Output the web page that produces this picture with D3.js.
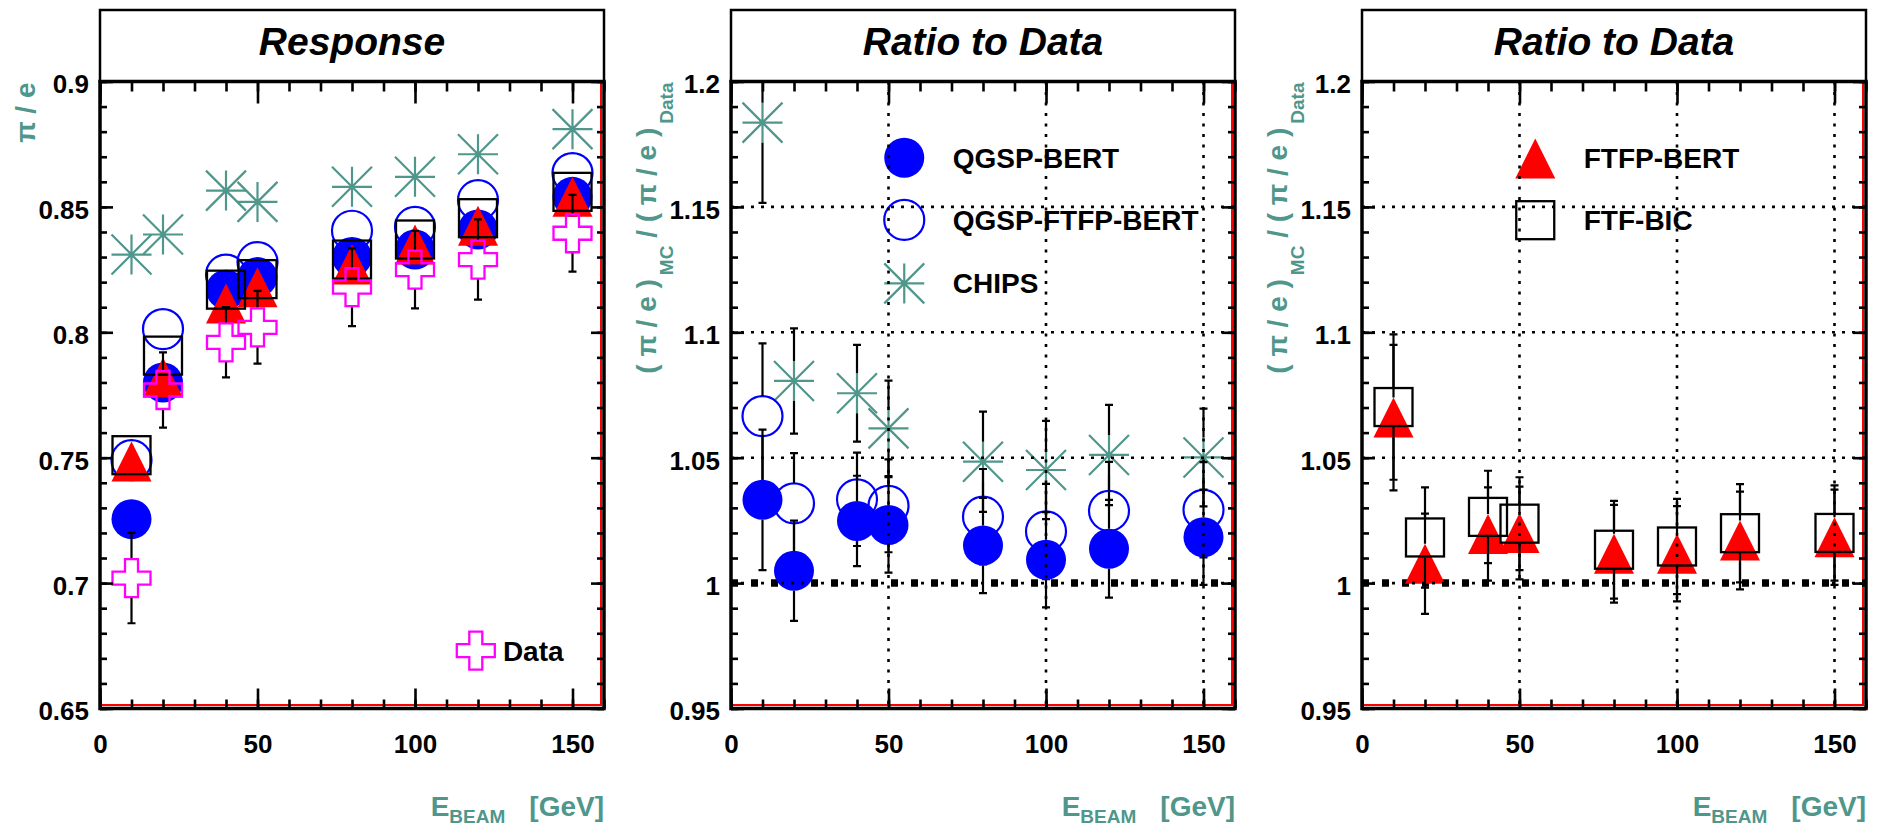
<!DOCTYPE html>
<html>
<head>
<meta charset="utf-8">
<script src="https://cdn.jsdelivr.net/npm/d3@7"></script>
<style>
  body { margin: 0; background: #fff; }
  svg text { font-family: "Liberation Sans", Arial, Helvetica, sans-serif; font-weight: bold; white-space: pre; }
</style>
</head>
<body>
<svg id="chart"></svg>
<script>
const energies = [10, 20, 40, 50, 80, 100, 120, 150];

// pi/e response
const dataResp = [0.702, 0.777, 0.796, 0.802, 0.818, 0.825, 0.829, 0.8395];
const dataRespErr = [0.018, 0.015, 0.014, 0.0145, 0.0155, 0.0155, 0.016, 0.0153];
const qgspBertResp = [0.7255, 0.780, 0.817, 0.822, 0.830, 0.833, 0.841, 0.854];
const qgspFtfpBertResp = [0.749, 0.8013, 0.823, 0.828, 0.8405, 0.842, 0.8527, 0.8635];
const chipsResp = [0.831, 0.839, 0.8565, 0.852, 0.858, 0.862, 0.871, 0.881];
const ftfpBertResp = [0.7485, 0.782, 0.8115, 0.818, 0.827, 0.835, 0.8425, 0.854];
const ftfBicResp = [0.751, 0.7907, 0.817, 0.8212, 0.829, 0.837, 0.8455, 0.856];

// ratio MC / data
const qgspBertRatio = [1.0332, 1.0049, 1.0248, 1.0232, 1.015, 1.0093, 1.0137, 1.0183];
const qgspBertRatioErr = [0.028, 0.020, 0.018, 0.019, 0.019, 0.019, 0.0195, 0.019];
const qgspFtfpBertRatio = [1.0666, 1.0318, 1.0334, 1.0308, 1.0265, 1.0206, 1.0288, 1.0292];
const qgspFtfpBertRatioErr = [0.029, 0.020, 0.0186, 0.0185, 0.019, 0.019, 0.0195, 0.019];
const chipsRatio = [1.1836, 1.0806, 1.0757, 1.0617, 1.0484, 1.0451, 1.0511, 1.0501];
const chipsRatioErr = [0.032, 0.021, 0.0193, 0.019, 0.020, 0.0196, 0.020, 0.0195];
const ftfpBertRatio = [1.066, 1.0077, 1.0196, 1.020, 1.0117, 1.0117, 1.017, 1.0183];
const ftfpBertRatioErr = [0.029, 0.020, 0.0186, 0.0185, 0.0195, 0.019, 0.0195, 0.019];
const ftfBicRatio = [1.0702, 1.0182, 1.0264, 1.0237, 1.0133, 1.0146, 1.0199, 1.020];
const ftfBicRatioErr = [0.029, 0.020, 0.0184, 0.0185, 0.0195, 0.019, 0.0196, 0.019];

const xMajor = [0, 50, 100, 150];
const gridX = [50, 100, 150];
const gridY = [1.0, 1.05, 1.1, 1.15];

const W = 1877, H = 826;
const panelLeft = [100, 731, 1362];
const panelWidth = 504;
const boxTop = 10, plotTop = 81.5, plotBottom = 708.5;
const teal = "#4f968b";

const svg = d3.select("#chart").attr("width", W).attr("height", H);

function drawMarker(sel, type) {
  if (type === "fullCircle") {
    sel.append("circle").attr("r", 20).attr("fill", "#0000ff");
  } else if (type === "openCircle") {
    sel.append("circle").attr("r", 20).attr("fill", "none").attr("stroke", "#0000ff").attr("stroke-width", 2.2);
  } else if (type === "star") {
    sel.append("path")
      .attr("d", "M-20,0H20M0,-20V20M-20,-20L20,20M-20,20L20,-20")
      .attr("stroke", teal).attr("stroke-width", 2.2).attr("fill", "none");
  } else if (type === "triangle") {
    sel.append("path").attr("d", "M0,-20L20,20L-20,20Z").attr("fill", "#ff0000");
  } else if (type === "square") {
    sel.append("rect").attr("x", -19).attr("y", -19).attr("width", 38).attr("height", 38)
      .attr("fill", "none").attr("stroke", "#000").attr("stroke-width", 2.3);
  } else if (type === "openCross") {
    const a = 19, b = 6.5;
    sel.append("path")
      .attr("d", `M${-b},${-a}H${b}V${-b}H${a}V${b}H${b}V${a}H${-b}V${b}H${-a}V${-b}H${-b}Z`)
      .attr("fill", "none").attr("stroke", "#ff00ff").attr("stroke-width", 2.3);
  }
}

function makePanel(p, i) {
  const left = panelLeft[i], right = left + panelWidth;
  const x = d3.scaleLinear().domain([0, 160]).range([left, right]);
  const y = d3.scaleLinear().domain(p.yDomain).range([plotBottom, plotTop]);
  const g = svg.append("g");

  // title box
  g.append("rect")
    .attr("x", left).attr("y", boxTop)
    .attr("width", panelWidth).attr("height", plotTop - boxTop)
    .attr("fill", "none").attr("stroke", "#000").attr("stroke-width", 2.5);
  g.append("text")
    .attr("x", (left + right) / 2).attr("y", 55)
    .attr("text-anchor", "middle")
    .attr("font-size", 39).attr("font-style", "italic")
    .text(p.title);

  // red frame histogram line
  g.append("path")
    .attr("d", `M${left},${plotBottom - 3.5}H${right - 3}V${plotTop}`)
    .attr("fill", "none").attr("stroke", "#ff0000").attr("stroke-width", 2);

  const clipId = "clip" + i;
  g.append("clipPath").attr("id", clipId)
    .append("rect").attr("x", left).attr("y", plotTop)
    .attr("width", panelWidth).attr("height", plotBottom - plotTop);

  const plot = g.append("g").attr("clip-path", `url(#${clipId})`);

  if (p.ratio) {
    plot.append("line")
      .attr("x1", x(0)).attr("x2", x(160))
      .attr("y1", y(1)).attr("y2", y(1))
      .attr("stroke", "#000").attr("stroke-width", 7.5)
      .attr("stroke-dasharray", "7,13");
  }

  // series: markers then error bars with a gap at the marker
  p.series.forEach(s => {
    energies.forEach((e, k) => {
      const cx = x(e), cy = y(s.values[k]);
      const m = plot.append("g").attr("transform", `translate(${cx},${cy})`);
      drawMarker(m, s.type);
      if (s.errors) {
        const top = y(s.values[k] + s.errors[k]);
        const bot = y(s.values[k] - s.errors[k]);
        let d = "";
        if (top < cy - 20) d += `M${cx},${top}V${cy - 20}M${cx - 4},${top}H${cx + 4}`;
        if (bot > cy + 20) d += `M${cx},${cy + 20}V${bot}M${cx - 4},${bot}H${cx + 4}`;
        if (d) plot.append("path").attr("d", d).attr("stroke", "#000").attr("stroke-width", 2.2).attr("fill", "none");
      }
    });
  });

  // legend
  p.legend.forEach(l => {
    const m = g.append("g").attr("transform", `translate(${x(l.x)},${y(l.y)})`);
    drawMarker(m, l.type);
    g.append("text")
      .attr("x", x(l.textX)).attr("y", y(l.y) + 10)
      .attr("font-size", 28)
      .text(l.label);
  });

  if (p.ratio) {
    gridY.forEach(v => {
      g.append("line")
        .attr("x1", left).attr("x2", right).attr("y1", y(v)).attr("y2", y(v))
        .attr("stroke", "#000").attr("stroke-width", 2.6).attr("stroke-dasharray", "3,7");
    });
    gridX.forEach(v => {
      g.append("line")
        .attr("x1", x(v)).attr("x2", x(v)).attr("y1", plotTop).attr("y2", plotBottom)
        .attr("stroke", "#000").attr("stroke-width", 2.6).attr("stroke-dasharray", "3,7.5");
    });
  }

  // frame
  g.append("rect")
    .attr("x", left).attr("y", plotTop)
    .attr("width", panelWidth).attr("height", plotBottom - plotTop)
    .attr("fill", "none").attr("stroke", "#000").attr("stroke-width", 3.5);

  const fmt = d => String(+d.toFixed(2));
  const yMajor = y.ticks(5), yMinor = y.ticks(25);
  const xMinor = x.ticks(16);

  const styleAxis = a => {
    a.select(".domain").remove();
    a.selectAll("line").attr("stroke-width", 2.6);
    a.attr("font-family", null).attr("font-size", 26);
  };

  g.append("g").attr("transform", `translate(0,${plotBottom})`)
    .call(d3.axisBottom(x).tickValues(xMajor).tickSizeInner(-20).tickSizeOuter(0).tickPadding(26.5).tickFormat(d3.format("d")))
    .call(styleAxis);
  g.append("g").attr("transform", `translate(0,${plotBottom})`)
    .call(d3.axisBottom(x).tickValues(xMinor).tickSizeInner(-9).tickSizeOuter(0).tickFormat(""))
    .call(styleAxis);
  g.append("g").attr("transform", `translate(0,${plotTop})`)
    .call(d3.axisTop(x).tickValues(xMajor).tickSizeInner(-22).tickSizeOuter(0).tickFormat(""))
    .call(styleAxis);
  g.append("g").attr("transform", `translate(0,${plotTop})`)
    .call(d3.axisTop(x).tickValues(xMinor).tickSizeInner(-10).tickSizeOuter(0).tickFormat(""))
    .call(styleAxis);

  const yl = g.append("g").attr("transform", `translate(${left},0)`)
    .call(d3.axisLeft(y).tickValues(yMajor).tickSizeInner(-13).tickSizeOuter(0).tickPadding(11).tickFormat(fmt))
    .call(styleAxis);
  yl.selectAll("text").attr("dy", "0.44em");
  g.append("g").attr("transform", `translate(${left},0)`)
    .call(d3.axisLeft(y).tickValues(yMinor).tickSizeInner(-7).tickSizeOuter(0).tickFormat(""))
    .call(styleAxis);
  g.append("g").attr("transform", `translate(${right},0)`)
    .call(d3.axisRight(y).tickValues(yMajor).tickSizeInner(-13).tickSizeOuter(0).tickFormat(""))
    .call(styleAxis);
  g.append("g").attr("transform", `translate(${right},0)`)
    .call(d3.axisRight(y).tickValues(yMinor).tickSizeInner(-7).tickSizeOuter(0).tickFormat(""))
    .call(styleAxis);

  // x title
  const xt = g.append("text")
    .attr("x", right).attr("y", 816)
    .attr("text-anchor", "end").attr("font-size", 28).attr("fill", teal);
  xt.append("tspan").text("E");
  xt.append("tspan").attr("font-size", 19).attr("dy", 7).text("BEAM");
  xt.append("tspan").attr("dy", -7).attr("dx", 24).text("[GeV]");

  // y title
  const yt = g.append("text")
    .attr("transform", `translate(${left + p.yTitleOffset},${plotTop + 1}) rotate(-90)`)
    .attr("text-anchor", "end").attr("font-size", 28).attr("fill", teal);
  if (p.ratio) {
    yt.append("tspan").text("( \u03c0 / e )");
    yt.append("tspan").attr("font-size", 19).attr("dy", 17).attr("dx", 4).text("MC");
    yt.append("tspan").attr("dy", -17).text(" / ( \u03c0 / e )");
    yt.append("tspan").attr("font-size", 19).attr("dy", 17).attr("dx", 4).text("Data");
  } else {
    yt.text("\u03c0 / e");
  }
}

const panels = [
  {
    title: "Response",
    yDomain: [0.65, 0.9],
    ratio: false,
    yTitleOffset: -65,
    series: [
      { type: "star", values: chipsResp },
      { type: "openCircle", values: qgspFtfpBertResp },
      { type: "fullCircle", values: qgspBertResp },
      { type: "triangle", values: ftfpBertResp },
      { type: "square", values: ftfBicResp },
      { type: "openCross", values: dataResp, errors: dataRespErr }
    ],
    legend: [
      { type: "openCross", label: "Data", x: 119.3, y: 0.6731, textX: 127.9 }
    ]
  },
  {
    title: "Ratio to Data",
    yDomain: [0.95, 1.2],
    ratio: true,
    yTitleOffset: -75,
    series: [
      { type: "star", values: chipsRatio, errors: chipsRatioErr },
      { type: "openCircle", values: qgspFtfpBertRatio, errors: qgspFtfpBertRatioErr },
      { type: "fullCircle", values: qgspBertRatio, errors: qgspBertRatioErr }
    ],
    legend: [
      { type: "fullCircle", label: "QGSP-BERT", x: 55, y: 1.1696, textX: 70.4 },
      { type: "openCircle", label: "QGSP-FTFP-BERT", x: 55, y: 1.1448, textX: 70.4 },
      { type: "star", label: "CHIPS", x: 55, y: 1.1195, textX: 70.4 }
    ]
  },
  {
    title: "Ratio to Data",
    yDomain: [0.95, 1.2],
    ratio: true,
    yTitleOffset: -75,
    series: [
      { type: "triangle", values: ftfpBertRatio, errors: ftfpBertRatioErr },
      { type: "square", values: ftfBicRatio, errors: ftfBicRatioErr }
    ],
    legend: [
      { type: "triangle", label: "FTFP-BERT", x: 55, y: 1.1693, textX: 70.4 },
      { type: "square", label: "FTF-BIC", x: 55, y: 1.1447, textX: 70.4 }
    ]
  }
];

panels.forEach(makePanel);
</script>
</body>
</html>
